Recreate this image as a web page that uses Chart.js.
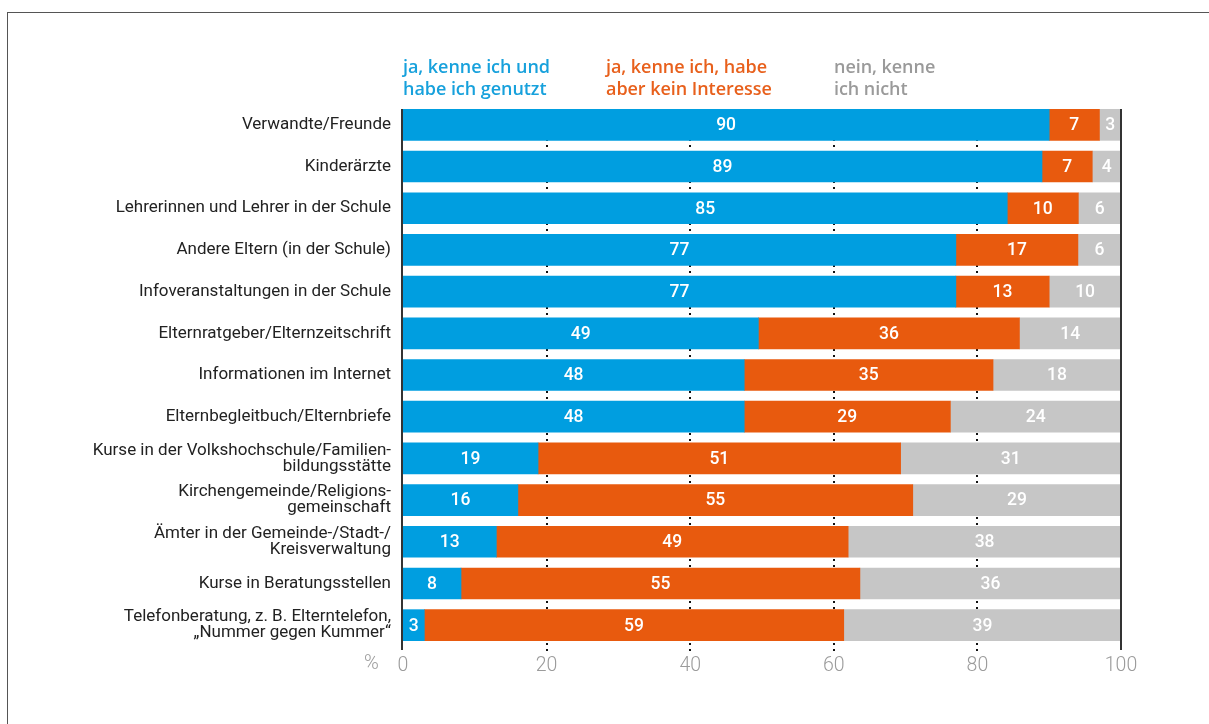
<!DOCTYPE html>
<html lang="de">
<head>
<meta charset="utf-8">
<title>Informationsquellen Eltern</title>
<script src="https://cdn.jsdelivr.net/npm/chart.js@4.4.1/dist/chart.umd.min.js"></script>
<style>
	body { margin: 0; background: #fff; font-family: Roboto, "Noto Sans", sans-serif; }
	#wrap { position: relative; width: 1209px; height: 724px; overflow: hidden; }
	#frame { position: absolute; left: 7px; top: 12px; right: -2px; bottom: -2px;
		border-top: 1.5px solid #555; border-left: 1.5px solid #555; }
	#myChart { position: absolute; left: 0; top: 0; }
	.leg { position: absolute; top: 56px; font-family: "Open Sans", Roboto, sans-serif; font-size: 18px; font-weight: 600; line-height: 21.5px; white-space: nowrap; letter-spacing: -0.05px; }
	#pct { position: absolute; left: 364px; top: 650px; font-size: 20px; font-weight: 300; color: #9b9b9b; }
</style>
</head>
<body>
<div id="wrap">
	<div id="frame"></div>
	<canvas id="myChart" width="1209" height="724"></canvas>
	<div class="leg" style="left:403px;color:#17a1dc">ja, kenne ich und<br>habe ich genutzt</div>
	<div class="leg" style="left:606px;color:#e8601c">ja, kenne ich, habe<br>aber kein Interesse</div>
	<div class="leg" style="left:834px;color:#9a9a9a">nein, kenne<br>ich nicht</div>
	<div id="pct">%</div>
</div>
<script>
// categories (multi-line labels as arrays)
const categories = [
	'Verwandte/Freunde',
	'Kinderärzte',
	'Lehrerinnen und Lehrer in der Schule',
	'Andere Eltern (in der Schule)',
	'Infoveranstaltungen in der Schule',
	'Elternratgeber/Elternzeitschrift',
	'Informationen im Internet',
	'Elternbegleitbuch/Elternbriefe',
	['Kurse in der Volkshochschule/Familien-', 'bildungsstätte'],
	['Kirchengemeinde/Religions-', 'gemeinschaft'],
	['Ämter in der Gemeinde-/Stadt-/', 'Kreisverwaltung'],
	'Kurse in Beratungsstellen',
	['Telefonberatung, z. B. Elterntelefon,', '„Nummer gegen Kummer“']
];

// values in % as printed on the bars
const genutzt = [90, 89, 85, 77, 77, 49, 48, 48, 19, 16, 13, 8, 3];
const keinInteresse = [7, 7, 10, 17, 13, 36, 35, 29, 51, 55, 49, 55, 59];
const nichtBekannt = [3, 4, 6, 6, 10, 14, 18, 24, 31, 29, 38, 36, 39];

const xTicks = [0, 20, 40, 60, 80, 100];

// bars are scaled so every row fills 100 (rounded values don't always add up)
function share(arr) {
	return arr.map((v, i) => v / (genutzt[i] + keinInteresse[i] + nichtBekannt[i]) * 100);
}

// draws the dotted gridlines and the two solid end lines
const gridPlugin = {
	id: 'dotGrid',
	beforeDatasetsDraw(chart) {
		const ctx = chart.ctx;
		const x = chart.scales.x;
		const area = chart.chartArea;
		const top = area.top + 5;
		ctx.save();
		ctx.strokeStyle = '#111';
		ctx.lineWidth = 2;
		ctx.setLineDash([2, 4]);
		xTicks.slice(1, -1).forEach(t => {
			const px = Math.round(x.getPixelForValue(t));
			ctx.beginPath();
			ctx.moveTo(px, top);
			ctx.lineTo(px, area.bottom + 6);
			ctx.stroke();
		});
		ctx.restore();
	},
	afterDatasetsDraw(chart) {
		const ctx = chart.ctx;
		const x = chart.scales.x;
		const area = chart.chartArea;
		ctx.save();
		ctx.strokeStyle = '#333';
		ctx.lineWidth = 2;
		[0, 100].forEach(t => {
			const px = x.getPixelForValue(t) + (t == 0 ? -1 : 0);
			ctx.beginPath();
			ctx.moveTo(px, area.top + 5);
			ctx.lineTo(px, area.bottom + 4);
			ctx.stroke();
		});
		ctx.restore();
	}
};

// white numbers in the middle of each segment
const labelPlugin = {
	id: 'barLabels',
	afterDatasetsDraw(chart) {
		const ctx = chart.ctx;
		const raw = [genutzt, keinInteresse, nichtBekannt];
		ctx.save();
		ctx.fillStyle = '#fff';
		ctx.font = '500 17.5px Roboto';
		ctx.textAlign = 'center';
		ctx.textBaseline = 'middle';
		chart.data.datasets.forEach((ds, d) => {
			chart.getDatasetMeta(d).data.forEach((bar, i) => {
				ctx.fillText(raw[d][i], (bar.x + bar.base) / 2, bar.y + 1);
			});
		});
		ctx.restore();
	}
};

const data = {
	labels: categories,
	datasets: [
		{ label: 'ja, kenne ich und habe ich genutzt', data: share(genutzt), backgroundColor: '#009ee0' },
		{ label: 'ja, kenne ich, habe aber kein Interesse', data: share(keinInteresse), backgroundColor: '#e85a0e' },
		{ label: 'nein, kenne ich nicht', data: share(nichtBekannt), backgroundColor: '#c6c6c6' }
	]
};

const config = {
	type: 'bar',
	data,
	options: {
		indexAxis: 'y',
		responsive: false,
		animation: false,
		layout: { padding: { top: 104, right: 88, left: 0, bottom: 0 } },
		datasets: { bar: { barThickness: 31, borderWidth: 0 } },
		plugins: {
			legend: { display: false },
			tooltip: { enabled: false }
		},
		scales: {
			x: {
				stacked: true,
				min: 0,
				max: 100,
				afterBuildTicks: scale => { scale.ticks = xTicks.map(v => ({ value: v })); },
				afterFit: scale => { scale.height = 78; },
				grid: { display: false, drawTicks: false },
				border: { display: false },
				ticks: { color: '#9b9b9b', font: { family: 'Roboto', size: 19.5, weight: 300 }, padding: 8, maxRotation: 0 }
			},
			y: {
				stacked: true,
				afterFit: scale => { scale.width = 403; },
				grid: { display: false, drawTicks: false },
				border: { display: false },
				ticks: { color: '#222', font: { family: 'Roboto', size: 17, lineHeight: 0.95 }, padding: 12, autoSkip: false }
			}
		}
	},
	plugins: [gridPlugin, labelPlugin]
};

const myChart = new Chart(document.getElementById('myChart'), config);
</script>
</body>
</html>
